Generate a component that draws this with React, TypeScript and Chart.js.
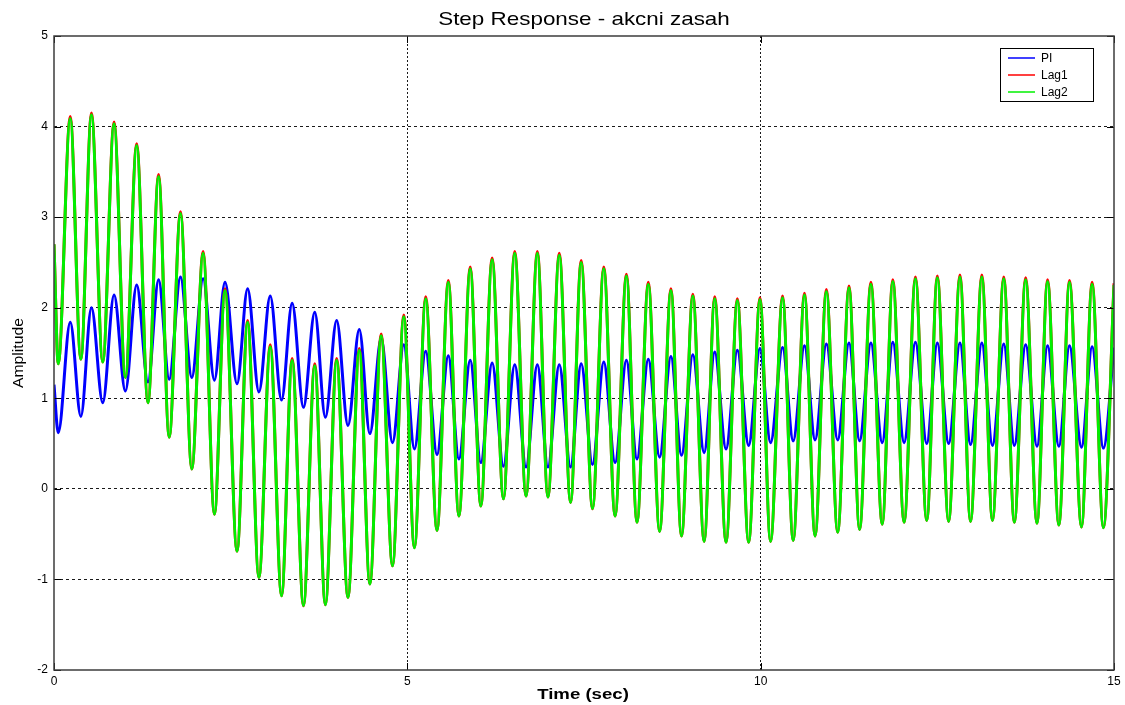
import React, { useEffect, useRef } from 'react';
import { Chart, registerables } from 'chart.js';

Chart.register(...registerables);

// Time instants (s) of the start, each trough / crest, and the end of the run
const TIME = [
  0,
  0.06, 0.23, 0.38, 0.53, 0.69, 0.85, 1.01, 1.17, 1.33, 1.48,
  1.63, 1.79, 1.95, 2.11, 2.27, 2.42, 2.59, 2.74, 2.90, 3.06,
  3.22, 3.37, 3.53, 3.69, 3.84, 4.00, 4.16, 4.32, 4.47, 4.63,
  4.79, 4.95, 5.10, 5.26, 5.42, 5.58, 5.73, 5.89, 6.04, 6.20,
  6.36, 6.52, 6.68, 6.84, 6.99, 7.15, 7.31, 7.46, 7.62, 7.78,
  7.94, 8.10, 8.25, 8.41, 8.57, 8.73, 8.88, 9.04, 9.20, 9.35,
  9.51, 9.67, 9.83, 9.99, 10.14, 10.31, 10.46, 10.62, 10.77, 10.93,
  11.09, 11.25, 11.40, 11.56, 11.72, 11.87, 12.03, 12.19, 12.35, 12.50,
  12.66, 12.82, 12.97, 13.13, 13.28, 13.44, 13.59, 13.75, 13.91, 14.06,
  14.22, 14.37, 14.54, 14.69, 14.85, 15.0,
];

// Control action of the PI controller
const PI_U = [
  1.15,
  0.62, 1.84, 0.80, 2.00, 0.95, 2.14, 1.08, 2.25, 1.18, 2.31,
  1.21, 2.34, 1.23, 2.32, 1.20, 2.28, 1.16, 2.21, 1.07, 2.13,
  0.98, 2.05, 0.90, 1.95, 0.79, 1.86, 0.70, 1.76, 0.61, 1.66,
  0.51, 1.59, 0.44, 1.52, 0.38, 1.47, 0.33, 1.42, 0.29, 1.39,
  0.25, 1.37, 0.24, 1.37, 0.24, 1.37, 0.24, 1.38, 0.27, 1.40,
  0.29, 1.42, 0.33, 1.43, 0.35, 1.46, 0.37, 1.48, 0.40, 1.51,
  0.44, 1.53, 0.48, 1.55, 0.51, 1.56, 0.53, 1.58, 0.54, 1.60,
  0.54, 1.61, 0.53, 1.61, 0.51, 1.62, 0.51, 1.62, 0.50, 1.61,
  0.50, 1.61, 0.49, 1.61, 0.48, 1.60, 0.48, 1.59, 0.47, 1.58,
  0.47, 1.58, 0.46, 1.57, 0.45, 1.56,
];

// Control action of the first lag compensator
const LAG1_U = [
  2.70,
  1.38, 4.11, 1.43, 4.15, 1.40, 4.05, 1.23, 3.81, 0.95, 3.47,
  0.57, 3.06, 0.22, 2.62, -0.28, 2.21, -0.69, 1.86, -0.98, 1.59,
  -1.18, 1.44, -1.29, 1.38, -1.28, 1.44, -1.20, 1.55, -1.05, 1.71,
  -0.85, 1.92, -0.65, 2.12, -0.46, 2.30, -0.30, 2.45, -0.19, 2.55,
  -0.11, 2.62, -0.08, 2.62, -0.09, 2.60, -0.15, 2.52, -0.22, 2.45,
  -0.30, 2.37, -0.37, 2.28, -0.47, 2.21, -0.52, 2.15, -0.58, 2.12,
  -0.59, 2.10, -0.59, 2.11, -0.58, 2.13, -0.57, 2.16, -0.52, 2.20,
  -0.48, 2.24, -0.45, 2.28, -0.39, 2.31, -0.37, 2.34, -0.35, 2.35,
  -0.36, 2.36, -0.36, 2.36, -0.35, 2.34, -0.37, 2.33, -0.38, 2.31,
  -0.40, 2.30, -0.42, 2.28, -0.43, 2.27,
];

// Control action of the second lag compensator
const LAG2_U = [
  2.70,
  1.38, 4.09, 1.43, 4.13, 1.40, 4.03, 1.23, 3.79, 0.95, 3.45,
  0.57, 3.04, 0.22, 2.60, -0.28, 2.19, -0.69, 1.84, -0.98, 1.57,
  -1.18, 1.42, -1.29, 1.36, -1.28, 1.42, -1.20, 1.53, -1.05, 1.69,
  -0.85, 1.90, -0.65, 2.10, -0.46, 2.28, -0.30, 2.43, -0.19, 2.53,
  -0.11, 2.60, -0.08, 2.60, -0.09, 2.58, -0.15, 2.50, -0.22, 2.43,
  -0.30, 2.35, -0.37, 2.26, -0.47, 2.19, -0.52, 2.13, -0.58, 2.10,
  -0.59, 2.08, -0.59, 2.09, -0.58, 2.11, -0.57, 2.14, -0.52, 2.18,
  -0.48, 2.22, -0.45, 2.26, -0.39, 2.29, -0.37, 2.32, -0.35, 2.33,
  -0.36, 2.34, -0.36, 2.34, -0.35, 2.32, -0.37, 2.31, -0.38, 2.29,
  -0.40, 2.28, -0.42, 2.26, -0.43, 2.25,
];

const X_TICKS = [0, 5, 10, 15];
const Y_TICKS = [-2, -1, 0, 1, 2, 3, 4, 5];
const SERIES_NAMES = ['PI', 'Lag1', 'Lag2'];
const SERIES_COLORS = ['#0000ff', '#ff0000', '#00f000'];
const TITLE = 'Step Response - akcni zasah';
const X_LABEL = 'Time (sec)';
const Y_LABEL = 'Amplitude';

const W = 1125;
const H = 705;
const FONT = '"Liberation Sans", Arial, Helvetica, sans-serif';

// Text drawn with an optional horizontal stretch and rotation
function stretchedText(
  ctx: CanvasRenderingContext2D,
  text: string,
  x: number,
  y: number,
  font: string,
  sx: number,
  angle = 0,
) {
  ctx.save();
  ctx.translate(x, y);
  if (angle) ctx.rotate(angle);
  ctx.scale(sx, 1);
  ctx.font = font;
  ctx.fillStyle = '#000';
  ctx.textAlign = 'center';
  ctx.textBaseline = 'alphabetic';
  ctx.fillText(text, 0, 0);
  ctx.restore();
}

const frame = {
  id: 'frame',
  afterDraw(chart: any) {
    const { ctx, chartArea: a } = chart;
    const xs = chart.scales.x;
    const ys = chart.scales.y;
    ctx.save();

    // inward tick marks on all four sides
    ctx.strokeStyle = '#000';
    ctx.lineWidth = 1;
    ctx.beginPath();
    X_TICKS.forEach((v) => {
      const px = Math.round(xs.getPixelForValue(v)) + 0.5;
      ctx.moveTo(px, a.bottom);
      ctx.lineTo(px, a.bottom - 7);
      ctx.moveTo(px, a.top);
      ctx.lineTo(px, a.top + 7);
    });
    Y_TICKS.forEach((v) => {
      const py = Math.round(ys.getPixelForValue(v)) + 0.5;
      ctx.moveTo(a.left, py);
      ctx.lineTo(a.left + 7, py);
      ctx.moveTo(a.right, py);
      ctx.lineTo(a.right - 7, py);
    });
    ctx.stroke();

    // axes box
    ctx.strokeStyle = '#3c3c3c';
    ctx.lineWidth = 1.5;
    ctx.strokeRect(a.left, a.top, a.right - a.left, a.bottom - a.top);

    // title and axis labels
    stretchedText(ctx, TITLE, (a.left + a.right) / 2, 25, `19px ${FONT}`, 1.18);
    stretchedText(ctx, X_LABEL, (a.left + a.right) / 2 - 1, 699, `bold 15px ${FONT}`, 1.24);
    stretchedText(ctx, Y_LABEL, 23, (a.top + a.bottom) / 2, `15px ${FONT}`, 1.05, -Math.PI / 2);

    // legend
    const lx = 1000;
    const ly = 48;
    const lw = 93;
    const lh = 53;
    ctx.fillStyle = '#fff';
    ctx.fillRect(lx, ly, lw, lh);
    ctx.strokeStyle = '#000';
    ctx.lineWidth = 1;
    ctx.strokeRect(lx + 0.5, ly + 0.5, lw, lh);
    SERIES_NAMES.forEach((name, i) => {
      const ry = ly + 10 + i * 17;
      ctx.strokeStyle = SERIES_COLORS[i];
      ctx.lineWidth = 1.5;
      ctx.beginPath();
      ctx.moveTo(lx + 8, ry);
      ctx.lineTo(lx + 35, ry);
      ctx.stroke();
      ctx.fillStyle = '#000';
      ctx.font = `12px ${FONT}`;
      ctx.textAlign = 'left';
      ctx.textBaseline = 'middle';
      ctx.fillText(name, lx + 41, ry + 1);
    });

    ctx.restore();
  },
};

export default function App() {
  const canvasRef = useRef<HTMLCanvasElement | null>(null);

  useEffect(() => {
    const canvas = canvasRef.current;
    if (!canvas) return;

    const toPoints = (ys: number[]) => TIME.map((t, i) => ({ x: t, y: ys[i] }));
    const values = [PI_U, LAG1_U, LAG2_U];

    const edgeColor = (vals: number[]) => (c: any) => {
      const v = c.tick ? c.tick.value : null;
      return v === vals[0] || v === vals[vals.length - 1] ? 'rgba(0,0,0,0)' : '#1a1a1a';
    };

    const chart = new Chart(canvas, {
      type: 'line',
      data: {
        datasets: SERIES_NAMES.map((name, i) => ({
          label: name,
          data: toPoints(values[i]),
          borderColor: SERIES_COLORS[i],
          backgroundColor: SERIES_COLORS[i],
          borderWidth: 3,
          pointRadius: 0,
          fill: false,
          cubicInterpolationMode: 'monotone',
          order: 2 - i,
        })),
      },
      options: {
        animation: false,
        responsive: false,
        devicePixelRatio: 1,
        events: [],
        layout: { padding: { top: 36, right: 11, bottom: 0, left: 0 } },
        plugins: {
          legend: { display: false },
          title: { display: false },
          tooltip: { enabled: false },
        },
        scales: {
          x: {
            type: 'linear',
            min: 0,
            max: 15,
            afterBuildTicks: (s: any) => {
              s.ticks = X_TICKS.map((v) => ({ value: v }));
            },
            afterFit: (s: any) => {
              s.height = 35;
            },
            grid: { color: edgeColor(X_TICKS), lineWidth: 1, drawTicks: false },
            border: { display: false, dash: [2, 2] },
            ticks: {
              color: '#000',
              font: { family: FONT, size: 12 },
              padding: 4,
              maxRotation: 0,
              autoSkip: false,
            },
          },
          y: {
            type: 'linear',
            min: -2,
            max: 5,
            afterBuildTicks: (s: any) => {
              s.ticks = Y_TICKS.map((v) => ({ value: v }));
            },
            afterFit: (s: any) => {
              s.width = 54;
            },
            grid: { color: edgeColor(Y_TICKS), lineWidth: 1, drawTicks: false },
            border: { display: false, dash: [3, 3] },
            ticks: {
              color: '#000',
              font: { family: FONT, size: 12 },
              padding: 6,
              autoSkip: false,
            },
          },
        },
      },
      plugins: [frame],
    } as any);

    return () => chart.destroy();
  }, []);

  return (
    <div style={{ position: 'absolute', left: 0, top: 0, width: W, height: H, background: '#fff' }}>
      <canvas ref={canvasRef} width={W} height={H} style={{ display: 'block' }} />
    </div>
  );
}
